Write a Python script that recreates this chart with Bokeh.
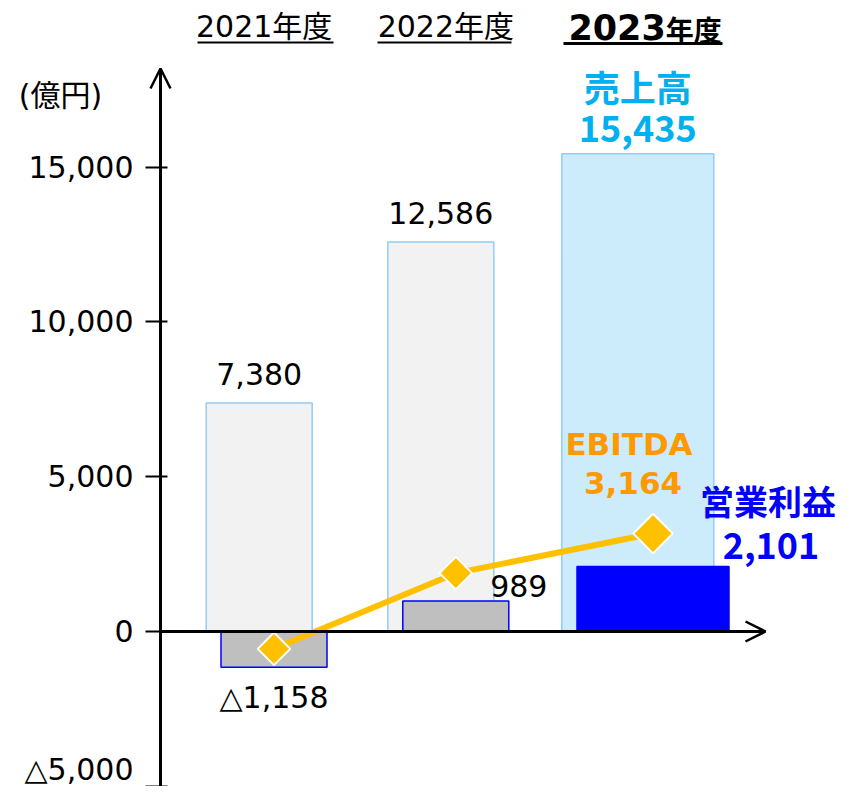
from bokeh.plotting import figure
from bokeh.models import (ColumnDataSource, Range1d, LinearAxis, FixedTicker,
                          CustomJSTickFormatter, Arrow, OpenHead)
from bokeh.core.properties import value
from bokeh.embed import file_html
from bokeh.resources import INLINE

# ---------------- data ----------------
years = ["2021年度", "2022年度", "2023年度"]
revenue = [7380, 12586, 15435]
op_profit = [-1158, 989, 2101]
ebitda = [-560, 1885, 3164]
revenue_labels = ["7,380", "12,586", "15,435"]
op_labels = ["△1,158", "989", "2,101"]
ebitda_labels = ["", "", "3,164"]
series_names = ["売上高", "営業利益", "EBITDA"]
unit_label = "(億円)"
y_ticks = [-5000, 0, 5000, 10000, 15000]

# ---------------- layout ----------------
W, H = 836, 786
PX = 15000 / 464.3          # data units per screen pixel
def yd(wy):                 # picture pixel row -> data value
    return (631 - wy) * PX

x_rev = [258.7, 440.3, 637.3]
x_op = [273.5, 455.3, 652.5]
bar_w = [106, 106, 152]
marker_size = [23, 23, 28]

FONT = value("DejaVu Sans, Noto Sans CJK JP")
CJK = value("Noto Sans CJK JP, DejaVu Sans")

p = figure(width=W, height=H, x_range=Range1d(0, W),
           y_range=Range1d(yd(H), yd(0)),
           output_backend="svg", toolbar_location=None, min_border=0,
           x_axis_type=None, y_axis_type=None, outline_line_color=None,
           background_fill_color="white", border_fill_color="white")

# revenue bars
rev_src = ColumnDataSource(dict(
    x=x_rev, top=revenue, w=bar_w,
    fill=["#F2F2F2", "#F2F2F2", "#CCEBFB"]))
p.vbar(x="x", top="top", bottom=0, width="w", source=rev_src,
       fill_color="fill", line_color="#92CDF5", line_width=1.5)

# operating profit bars
op_src = ColumnDataSource(dict(
    x=x_op, top=op_profit, w=bar_w,
    fill=["#BFBFBF", "#BFBFBF", "#0000FF"]))
p.vbar(x="x", top="top", bottom=0, width="w", source=op_src,
       fill_color="fill", line_color="#0000FF", line_width=1.5)

# axes (arrows)
p.add_layout(Arrow(end=OpenHead(size=20, line_width=2.5, line_color="black"),
                   x_start=160, y_start=0, x_end=765, y_end=0,
                   line_width=3, line_color="black"))
p.add_layout(Arrow(end=OpenHead(size=20, line_width=2.5, line_color="black"),
                   x_start=160, y_start=yd(820), x_end=160, y_end=yd(68),
                   line_width=3, line_color="black"))

yaxis = LinearAxis(fixed_location=160,
                   ticker=FixedTicker(ticks=y_ticks),
                   formatter=CustomJSTickFormatter(code="""
                       const v = Math.abs(tick).toLocaleString('en-US');
                       return tick < 0 ? '\u25b3' + v : v;"""),
                   axis_line_color=None,
                   major_tick_in=7, major_tick_out=15,
                   major_tick_line_width=2, major_tick_line_color="black",
                   minor_tick_line_color=None,
                   major_label_text_font="DejaVu Sans",
                   major_label_text_font_size="30px",
                   major_label_text_color="black",
                   major_label_standoff=12)
p.add_layout(yaxis, "left")

# EBITDA line + diamonds
eb_src = ColumnDataSource(dict(x=x_op, y=ebitda, s=marker_size))
p.line(x="x", y="y", source=eb_src, line_color="#FFC000", line_width=6)
p.scatter(x="x", y="y", size="s", source=eb_src, marker="square",
          angle=0.785398, fill_color="#FFC000", line_color="white",
          line_width=2)

# value labels (2021/2022 revenue)
p.text(x=x_rev[:2], y=revenue[:2], text=revenue_labels[:2], y_offset=-29,
       text_align="center", text_baseline="middle", text_font=FONT,
       text_font_size="30px", text_color="black")
# op profit labels 2021/2022
p.text(x=x_op[:2], y=op_profit[:2], text=op_labels[:2],
       x_offset=[0, 63], y_offset=[30, -15],
       text_align="center", text_baseline="middle", text_font=FONT,
       text_font_size="30px", text_color="black")

# 2023 highlight labels
p.text(x=[x_rev[2], x_rev[2]], y=[revenue[2], revenue[2]],
       text=[series_names[0], revenue_labels[2]], y_offset=[-68, -25],
       text_align="center", text_baseline="middle", text_font=CJK,
       text_font_size="36px", text_font_style="bold", text_color="#00B0F0")
p.text(x=[x_op[2], x_op[2]], y=[ebitda[2], ebitda[2]],
       text=[series_names[2], ebitda_labels[2]],
       x_offset=[-24, -20], y_offset=[-90, -51],
       text_align="center", text_baseline="middle", text_font=FONT,
       text_font_size="31px", text_font_style="bold", text_color="#FF9900")
p.text(x=[x_op[2], x_op[2]], y=[op_profit[2], op_profit[2]],
       text=[series_names[1], op_labels[2]],
       x_offset=[115, 118], y_offset=[-66, -21],
       text_align="center", text_baseline="middle", text_font=CJK,
       text_font_size=["34px", "36px"], text_font_style="bold",
       text_color="#0000FF")

# year headers
p.text(x=x_rev[:2], y=[yd(26), yd(26)], text=years[:2], x_offset=5,
       text_align="center", text_baseline="middle", text_font=FONT,
       text_font_size="30px", text_color="black")
p.text(x=[x_rev[2]], y=[yd(26)], text=[years[2][:4]], x_offset=28,
       text_align="right", text_baseline="middle",
       text_font=value("DejaVu Sans"), text_font_size="35px",
       text_font_style="bold", text_color="black")
p.text(x=[x_rev[2]], y=[yd(28)], text=[years[2][4:]], x_offset=28,
       text_align="left", text_baseline="middle", text_font=CJK,
       text_font_size="28px", text_font_style="bold", text_color="black")
# underlines
p.segment(x0=[197, 377], y0=[yd(42)] * 2, x1=[333, 511], y1=[yd(42)] * 2,
          line_color="black", line_width=2)
p.segment(x0=[563], y0=[yd(43)], x1=[722], y1=[yd(43)],
          line_color="black", line_width=3)

# unit label
p.text(x=[60], y=[yd(95)], text=[unit_label], text_align="center",
       text_baseline="middle", text_font=FONT, text_font_size="30px",
       text_color="black")

open("out.html", "w").write(file_html(p, INLINE))
